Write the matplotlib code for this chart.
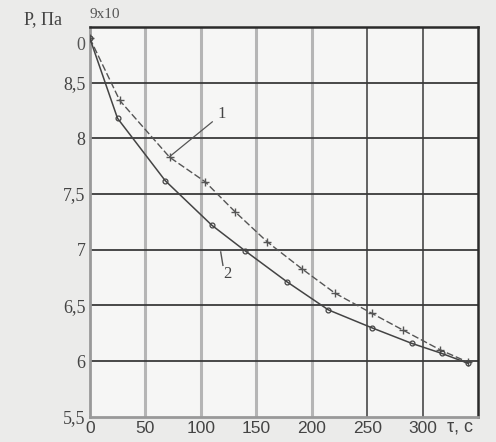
import numpy as np
import matplotlib.pyplot as plt

# time, s
t1 = [0, 27, 72, 104, 131, 160, 191, 221, 254, 282, 316, 341]
# pressure x10^5 Pa, curve 1
p1 = [8.90, 8.34, 7.83, 7.61, 7.34, 7.07, 6.83, 6.61, 6.43, 6.28, 6.10, 5.99]
t2 = [0, 25, 68, 110, 140, 178, 215, 254, 290, 317, 341]
p2 = [8.90, 8.18, 7.62, 7.22, 6.99, 6.71, 6.46, 6.30, 6.16, 6.07, 5.98]

xticks = [0, 50, 100, 150, 200, 250, 300]
yticks = [5.5, 6, 6.5, 7, 7.5, 8, 8.5]
ylabels = ['5,5', '6', '6,5', '7', '7,5', '8', '8,5']

fig = plt.figure(figsize=(4.96, 4.42), dpi=100, facecolor='#ebebea')
ax = fig.add_axes([0.181, 0.057, 0.783, 0.882], facecolor='#f6f6f5')

ax.set_xlim(0, 350)
ax.set_ylim(5.5, 9)

# grid
for x in [50, 100, 150, 200]:
    ax.axvline(x, color='#b5b5b5', lw=2.2, zorder=1)
for x in [250, 300]:
    ax.axvline(x, color='#3a3a3a', lw=1.1, zorder=1)
for y in [6, 6.5, 7, 7.5, 8, 8.5]:
    ax.axhline(y, color='#3a3a3a', lw=1.3, zorder=1)

ax.plot(t1, p1, color='#555555', lw=1.0, ls=(0, (5, 2)), marker='+', ms=6, mew=1.0, zorder=3)
ax.plot(t2, p2, color='#444444', lw=1.1, marker='o', ms=3.5, mfc='none', mew=0.9, zorder=3)

for s in ['top', 'right']:
    ax.spines[s].set_color('#2a2a2a')
    ax.spines[s].set_linewidth(1.8)
for s in ['left', 'bottom']:
    ax.spines[s].set_color('#999999')
    ax.spines[s].set_linewidth(2.0)

ax.set_xticks(xticks)
ax.set_xticklabels([str(v) for v in xticks], family='Liberation Sans', fontsize=12.5, color='#444444')
ax.set_yticks(yticks)
ax.set_yticklabels(ylabels, family='Liberation Serif', fontsize=13, color='#444444')
ax.tick_params(length=0, pad=3)

# labels
ax.text(-0.072, 1.018, 'P, Па', transform=ax.transAxes, ha='right', va='center',
        family='Liberation Serif', fontsize=13, color='#444444')
ax.text(0.0, 1.033, '9x10', transform=ax.transAxes, ha='left', va='center',
        family='Liberation Serif', fontsize=11, color='#555555')
ax.text(-4, 8.83, '0', ha='right', va='center', family='Liberation Serif', fontsize=13, color='#555555')
ax.text(322, 5.41, 'τ, с', ha='left', va='center', family='Liberation Sans', fontsize=13, color='#444444')

# curve labels with leaders
ax.annotate('1', xy=(70, 7.82), xytext=(115, 8.18), family='Liberation Serif', fontsize=12,
            color='#444444', arrowprops=dict(arrowstyle='-', color='#555555', lw=0.9))
ax.plot([118, 120], [6.98, 6.86], color='#555555', lw=1.0)
ax.text(124, 6.78, '2', ha='center', va='center', family='Liberation Serif', fontsize=12, color='#444444')

fig.savefig('out.png', dpi=100, facecolor=fig.get_facecolor())
